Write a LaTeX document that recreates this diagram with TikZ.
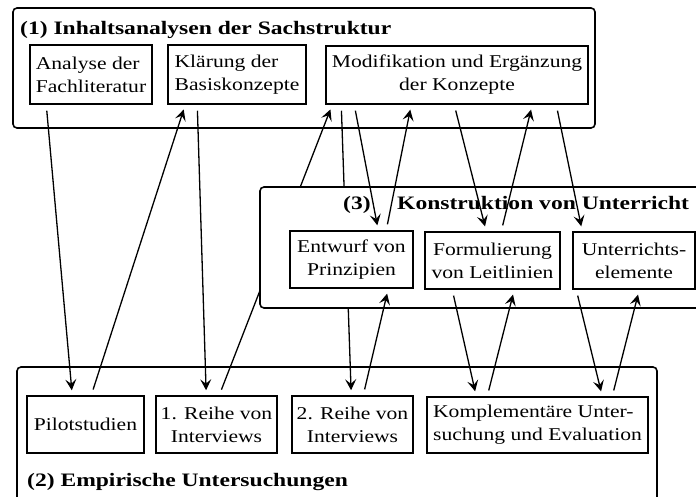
\documentclass[tikz,border=0pt]{standalone}
\usepackage{fontspec}
\setmainfont{Liberation Serif}[FakeStretch=1.2]
\newfontfamily\headfont{Liberation Serif}[FakeStretch=1.24]
\usetikzlibrary{arrows.meta}

\begin{document}
\begin{tikzpicture}[x=1pt,y=-1pt,
  frame/.style={draw, line width=1.6pt, rounded corners=4pt, fill=white, inner sep=0pt},
  item/.style={draw, line width=1.5pt, fill=white, inner sep=0pt,
    font=\fontsize{18}{23}\selectfont},
  head/.style={anchor=base west, inner sep=0pt,
    font=\headfont\bfseries\fontsize{19}{23}\selectfont},
  link/.style={line width=1.3pt, -{Stealth[length=11pt,width=11pt,inset=4.5pt]},
    shorten <=6pt, shorten >=5pt}]
  \useasboundingbox (0,0) rectangle (696,497);

  % group (1) and group (2)
  \node[frame, minimum width=582pt, minimum height=120pt] (G1) at (304,68) {};
  \node[frame, minimum width=640pt, minimum height=153pt] (G2) at (337,443.5) {};
  \node[head] (T1) at (20,35) {(1) Inhaltsanalysen der Sachstruktur};
  \node[head] (T2) at (27,486) {(2) Empirische Untersuchungen};

  % steps of the content analysis
  \node[item, minimum width=122pt, minimum height=59pt, align=left] (A) at (91,74.5)
    {Analyse der\\Fachliteratur};
  \node[item, minimum width=138pt, minimum height=59pt, align=left] (K) at (237,74.5)
    {Klärung der\\Basiskonzepte};
  \node[item, minimum width=262pt, minimum height=58pt, align=center] (M) at (457,75)
    {Modifikation und Ergänzung\\der Konzepte};

  % empirical studies
  \node[item, minimum width=117pt, minimum height=57pt] (P) at (85.5,424.5) {Pilotstudien};
  \node[item, minimum width=121pt, minimum height=57pt, align=center] (R1) at (216.5,424.5)
    {1. Reihe von\\Interviews};
  \node[item, minimum width=121pt, minimum height=57pt, align=center] (R2) at (352.5,424.5)
    {2. Reihe von\\Interviews};
  \node[item, minimum width=221pt, minimum height=56pt, align=left] (C) at (537.5,425)
    {Komplementäre Unter-\\suchung und Evaluation};

  % links running behind group (3)
  \draw[link] ([xshift=64pt]R1.north west) -- ([xshift=7pt]M.south west);
  \draw[link] ([xshift=16pt]M.south west) -- ([xshift=60pt]R2.north west);

  % group (3)
  \node[frame, minimum width=445pt, minimum height=121pt] (G3) at (482.5,247.5) {};
  \node[head] (T3a) at (343,210) {(3)};
  \node[head] (T3b) at (397,210) {Konstruktion von Unterricht};
  \node[item, minimum width=123pt, minimum height=57pt, align=center] (E) at (351.5,259.5)
    {Entwurf von\\Prinzipien};
  \node[item, minimum width=135pt, minimum height=57pt, align=center] (F) at (492.5,260.5)
    {Formulierung\\von Leitlinien};
  \node[item, minimum width=122pt, minimum height=57pt, align=center] (U) at (634,260.5)
    {Unterrichts-\\elemente};

  % links between (1) and (2)
  \draw[link] ([xshift=17pt]A.south west) -- ([xshift=46pt]P.north west);
  \draw[link] ([xshift=65pt]P.north west) -- ([xshift=18pt]K.south west);
  \draw[link] ([xshift=30pt]K.south west) -- ([xshift=51pt]R1.north west);

  % links between (1) and (3)
  \draw[link] ([xshift=29pt]M.south west) -- ([xshift=89pt]E.north west);
  \draw[link] ([xshift=97pt]E.north west) -- ([xshift=86pt]M.south west);
  \draw[link] ([xshift=129pt]M.south west) -- ([xshift=62pt]F.north west);
  \draw[link] ([xshift=77pt]F.north west) -- ([xshift=207pt]M.south west);
  \draw[link] ([xshift=231pt]M.south west) -- ([xshift=10pt]U.north west);

  % links between (3) and (2)
  \draw[link] ([xshift=72pt]R2.north west) -- ([xshift=99pt]E.south west);
  \draw[link] ([xshift=28pt]F.south west) -- ([xshift=50pt]C.north west);
  \draw[link] ([xshift=61pt]C.north west) -- ([xshift=90pt]F.south west);
  \draw[link] ([xshift=4pt]U.south west) -- ([xshift=176pt]C.north west);
  \draw[link] ([xshift=186pt]C.north west) -- ([xshift=67pt]U.south west);
\end{tikzpicture}
\end{document}
